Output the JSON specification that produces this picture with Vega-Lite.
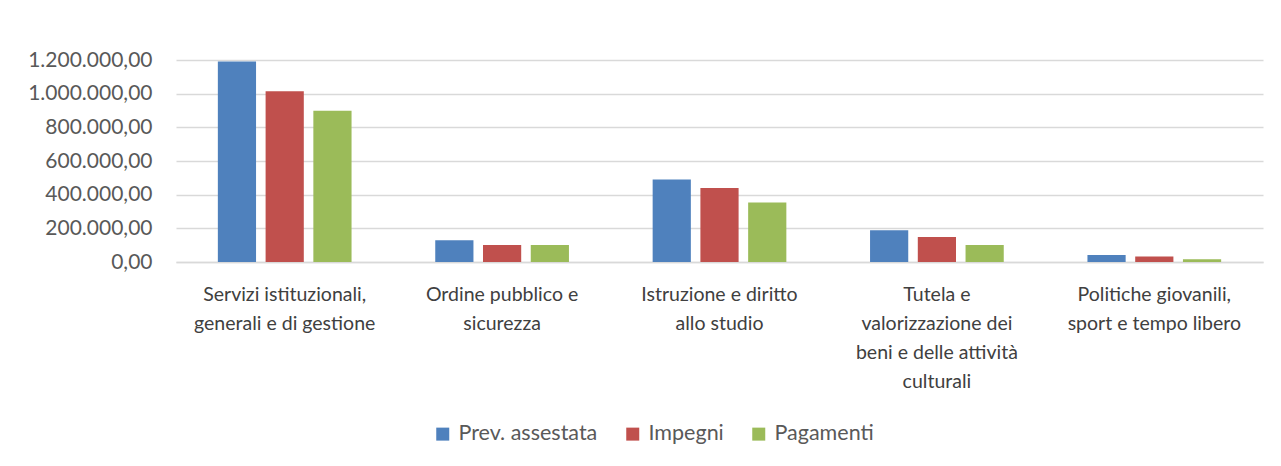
{
  "$schema": "https://vega.github.io/schema/vega-lite/v6.json",
  "width": 1087,
  "height": 202,
  "autosize": {"type": "none"},
  "padding": {"left": 176, "top": 60, "right": 18, "bottom": 204},
  "background": "white",
  "config": {
    "locale": {"number": {"decimal": ",", "thousands": ".", "grouping": [3], "currency": ["€", ""]}},
    "view": {"stroke": null},
    "font": "Lato"
  },
  "data": {
    "values": [
      {"categoria": "Servizi istituzionali,|generali e di gestione", "serie": "Prev. assestata", "valore": 1191000},
      {"categoria": "Servizi istituzionali,|generali e di gestione", "serie": "Impegni", "valore": 1015000},
      {"categoria": "Servizi istituzionali,|generali e di gestione", "serie": "Pagamenti", "valore": 898000},
      {"categoria": "Ordine pubblico e|sicurezza", "serie": "Prev. assestata", "valore": 129000},
      {"categoria": "Ordine pubblico e|sicurezza", "serie": "Impegni", "valore": 101000},
      {"categoria": "Ordine pubblico e|sicurezza", "serie": "Pagamenti", "valore": 101000},
      {"categoria": "Istruzione e diritto|allo studio", "serie": "Prev. assestata", "valore": 490000},
      {"categoria": "Istruzione e diritto|allo studio", "serie": "Impegni", "valore": 440000},
      {"categoria": "Istruzione e diritto|allo studio", "serie": "Pagamenti", "valore": 353000},
      {"categoria": "Tutela e|valorizzazione dei|beni e delle attività|culturali", "serie": "Prev. assestata", "valore": 188000},
      {"categoria": "Tutela e|valorizzazione dei|beni e delle attività|culturali", "serie": "Impegni", "valore": 149000},
      {"categoria": "Tutela e|valorizzazione dei|beni e delle attività|culturali", "serie": "Pagamenti", "valore": 101000},
      {"categoria": "Politiche giovanili,|sport e tempo libero", "serie": "Prev. assestata", "valore": 41000},
      {"categoria": "Politiche giovanili,|sport e tempo libero", "serie": "Impegni", "valore": 32000},
      {"categoria": "Politiche giovanili,|sport e tempo libero", "serie": "Pagamenti", "valore": 16000}
    ]
  },
  "mark": {"type": "bar"},
  "encoding": {
    "x": {
      "field": "categoria",
      "type": "nominal",
      "sort": null,
      "scale": {"paddingInner": 0.385, "paddingOuter": 0.1925},
      "axis": {
        "title": null,
        "labelAngle": 0,
        "labelExpr": "split(datum.label, '|')",
        "labelFont": "Lato",
        "labelFontSize": 19.5,
        "labelColor": "#404040",
        "labelLineHeight": 29,
        "labelBaseline": "top",
        "labelPadding": 23,
        "ticks": false,
        "domainColor": "#d9d9d9",
        "domainWidth": 1.5,
        "labelLimit": 300
      }
    },
    "xOffset": {
      "field": "serie",
      "type": "nominal",
      "sort": ["Prev. assestata", "Impegni", "Pagamenti"],
      "scale": {"paddingInner": 0.2}
    },
    "y": {
      "field": "valore",
      "type": "quantitative",
      "scale": {"domain": [0, 1200000], "nice": false},
      "axis": {
        "title": null,
        "values": [0, 200000, 400000, 600000, 800000, 1000000, 1200000],
        "format": ",.2f",
        "labelFont": "Lato",
        "labelFontSize": 21,
        "labelColor": "#595959",
        "labelPadding": 24,
        "ticks": false,
        "domain": false,
        "gridColor": "#d9d9d9",
        "gridWidth": 1.5
      }
    },
    "color": {
      "field": "serie",
      "type": "nominal",
      "sort": ["Prev. assestata", "Impegni", "Pagamenti"],
      "scale": {"domain": ["Prev. assestata", "Impegni", "Pagamenti"], "range": ["#4F81BD", "#C0504D", "#9BBB59"]},
      "legend": {
        "title": null,
        "orient": "none",
        "direction": "horizontal",
        "legendX": 256,
        "legendY": 363,
        "symbolType": "square",
        "symbolSize": 169,
        "symbolStrokeWidth": 0,
        "labelFont": "Lato",
        "labelFontSize": 21.5,
        "labelColor": "#595959",
        "columnPadding": 24,
        "labelOffset": 5
      }
    }
  }
}
